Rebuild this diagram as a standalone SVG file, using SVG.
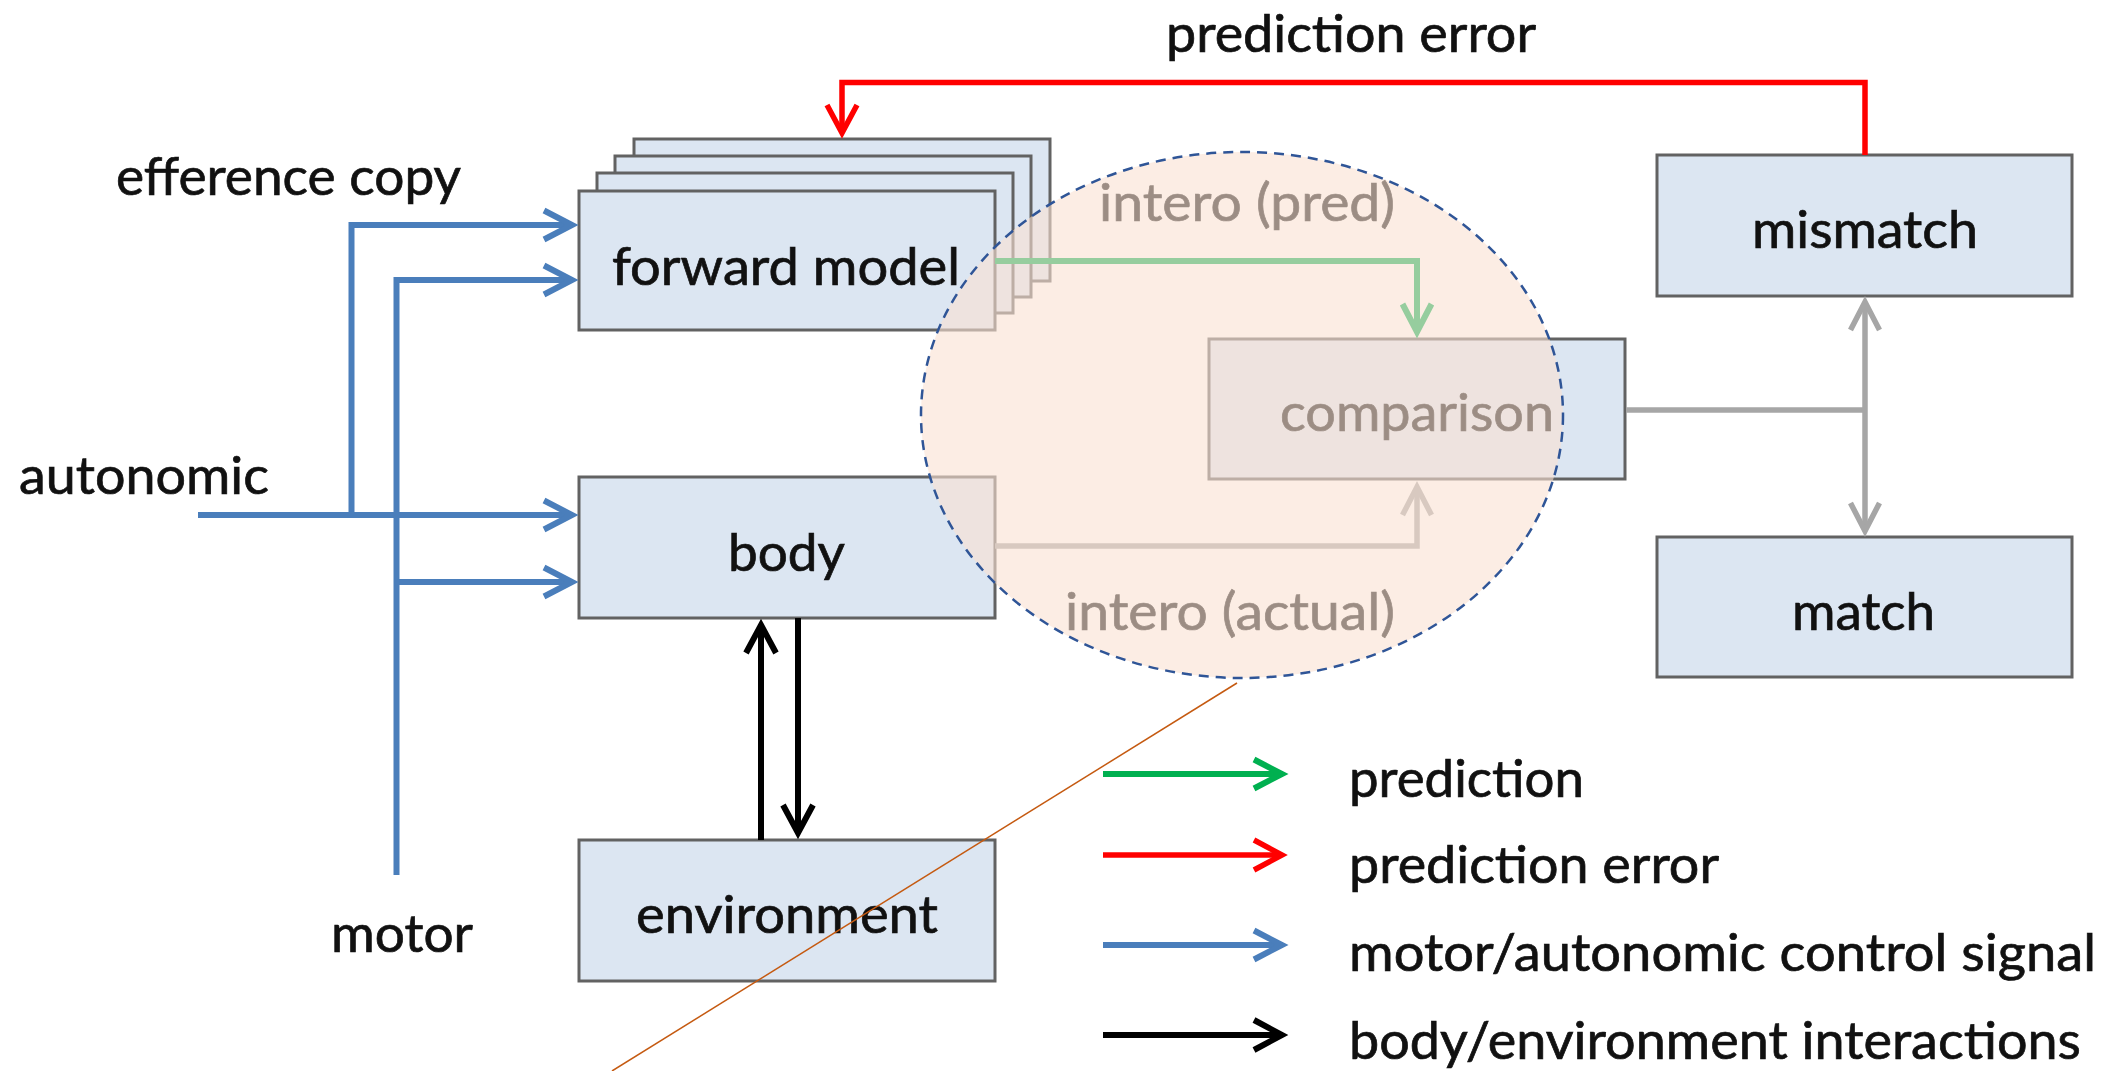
<svg xmlns="http://www.w3.org/2000/svg" width="2110" height="1071" viewBox="0 0 2110 1071">
<style>
text{font-family:Lato,"Open Sans","Liberation Sans",sans-serif;font-size:52px;fill:#111;stroke:#111;stroke-width:0.7}
.box{fill:#dce6f2;stroke:#626262;stroke-width:3}
.ln{fill:none;stroke-linecap:butt;stroke-linejoin:miter}
.blue{stroke:#4a7ebb;stroke-width:6}
.red{stroke:#ff0000;stroke-width:5.5}
.green{stroke:#00b050;stroke-width:6}
.gray{stroke:#a6a6a6;stroke-width:5.5}
.black{stroke:#000;stroke-width:6}
</style>
<defs>
<marker id="mBlue" markerUnits="userSpaceOnUse" orient="auto" overflow="visible" markerWidth="1" markerHeight="1"><path d="M-28,-14.5 L0,0 L-28,14.5" fill="none" stroke="#4a7ebb" stroke-width="6"/></marker>
<marker id="mRed" markerUnits="userSpaceOnUse" orient="auto" overflow="visible" markerWidth="1" markerHeight="1"><path d="M-28,-15 L0,0 L-28,15" fill="none" stroke="#ff0000" stroke-width="5.5"/></marker>
<marker id="mGreen" markerUnits="userSpaceOnUse" orient="auto" overflow="visible" markerWidth="1" markerHeight="1"><path d="M-28,-14.5 L0,0 L-28,14.5" fill="none" stroke="#00b050" stroke-width="6"/></marker>
<marker id="mGray" markerUnits="userSpaceOnUse" orient="auto-start-reverse" overflow="visible" markerWidth="1" markerHeight="1"><path d="M-28,-14.5 L0,0 L-28,14.5" fill="none" stroke="#a6a6a6" stroke-width="5.5"/></marker>
<marker id="mBlack" markerUnits="userSpaceOnUse" orient="auto" overflow="visible" markerWidth="1" markerHeight="1"><path d="M-28,-15 L0,0 L-28,15" fill="none" stroke="#000" stroke-width="6"/></marker>
</defs>
<rect x="0" y="0" width="2110" height="1071" fill="#ffffff"/>

<g id="forward-model">
<rect class="box" x="634" y="139" width="416" height="142"/>
<rect class="box" x="615" y="156" width="416" height="141"/>
<rect class="box" x="597" y="173" width="416" height="140"/>
<rect class="box" x="579" y="191" width="416" height="139"/>
<text x="612" y="285" textLength="348" lengthAdjust="spacingAndGlyphs">forward model</text>
</g>
<g id="body">
<rect class="box" x="579" y="477" width="416" height="141"/>
<text x="728" y="571" textLength="117" lengthAdjust="spacingAndGlyphs">body</text>
</g>
<g id="environment">
<rect class="box" x="579" y="840" width="416" height="141"/>
<text x="636" y="933" textLength="302" lengthAdjust="spacingAndGlyphs">environment</text>
</g>
<g id="comparison">
<rect class="box" x="1209" y="339" width="416" height="140"/>
<text x="1280" y="431" textLength="274" lengthAdjust="spacingAndGlyphs">comparison</text>
</g>
<g id="mismatch">
<rect class="box" x="1657" y="155" width="415" height="141"/>
<text x="1752" y="248" textLength="226" lengthAdjust="spacingAndGlyphs">mismatch</text>
</g>
<g id="match">
<rect class="box" x="1657" y="537" width="415" height="140"/>
<text x="1792" y="630" textLength="143" lengthAdjust="spacingAndGlyphs">match</text>
</g>

<g id="connectors">
<path class="ln blue" d="M198,515 H572" marker-end="url(#mBlue)"/>
<path class="ln blue" d="M351.5,515 V225 H572" marker-end="url(#mBlue)"/>
<path class="ln blue" d="M396.5,875 V280 H572" marker-end="url(#mBlue)"/>
<path class="ln blue" d="M396.5,582 H572" marker-end="url(#mBlue)"/>
<path class="ln red" d="M1865,155 V82.5 H842 V133" marker-end="url(#mRed)"/>
<path class="ln green" d="M995,261 H1417 V332" marker-end="url(#mGreen)"/>
<path class="ln gray" d="M995,546 H1417 V487" marker-end="url(#mGray)"/>
<path class="ln gray" d="M1626,410 H1865"/>
<path class="ln gray" d="M1865,302 V531" marker-start="url(#mGray)" marker-end="url(#mGray)"/>
<path class="ln black" d="M761,840 V625" marker-end="url(#mBlack)"/>
<path class="ln black" d="M798,618 V833" marker-end="url(#mBlack)"/>
</g>

<g id="labels">
<text x="1166" y="52" textLength="370" lengthAdjust="spacingAndGlyphs">prediction error</text>
<text x="116" y="195" textLength="345" lengthAdjust="spacingAndGlyphs">efference copy</text>
<text x="19" y="494" textLength="250" lengthAdjust="spacingAndGlyphs">autonomic</text>
<text x="331" y="952" textLength="142" lengthAdjust="spacingAndGlyphs">motor</text>
<text x="1099" y="221" textLength="296" lengthAdjust="spacingAndGlyphs">intero (pred)</text>
<text x="1065" y="630" textLength="330" lengthAdjust="spacingAndGlyphs">intero (actual)</text>
</g>

<ellipse id="highlight" cx="1242" cy="415" rx="321" ry="263" fill="#fae1d2" fill-opacity="0.6" stroke="#2f5597" stroke-width="2.5" stroke-dasharray="10 7"/>

<g id="legend">
<path class="ln green" d="M1103,774 H1282" marker-end="url(#mGreen)"/>
<path class="ln red" d="M1103,855 H1282" marker-end="url(#mRed)"/>
<path class="ln blue" d="M1103,945 H1282" marker-end="url(#mBlue)"/>
<path class="ln black" d="M1103,1035 H1282" marker-end="url(#mBlack)"/>
<text x="1349" y="797" textLength="235" lengthAdjust="spacingAndGlyphs">prediction</text>
<text x="1349" y="883" textLength="370" lengthAdjust="spacingAndGlyphs">prediction error</text>
<text x="1349" y="971" textLength="747" lengthAdjust="spacingAndGlyphs">motor/autonomic control signal</text>
<text x="1349" y="1059" textLength="732" lengthAdjust="spacingAndGlyphs">body/environment interactions</text>
</g>

<line id="pointer" x1="1237" y1="683" x2="612" y2="1071" stroke="#c55a11" stroke-width="1.5"/>
</svg>
